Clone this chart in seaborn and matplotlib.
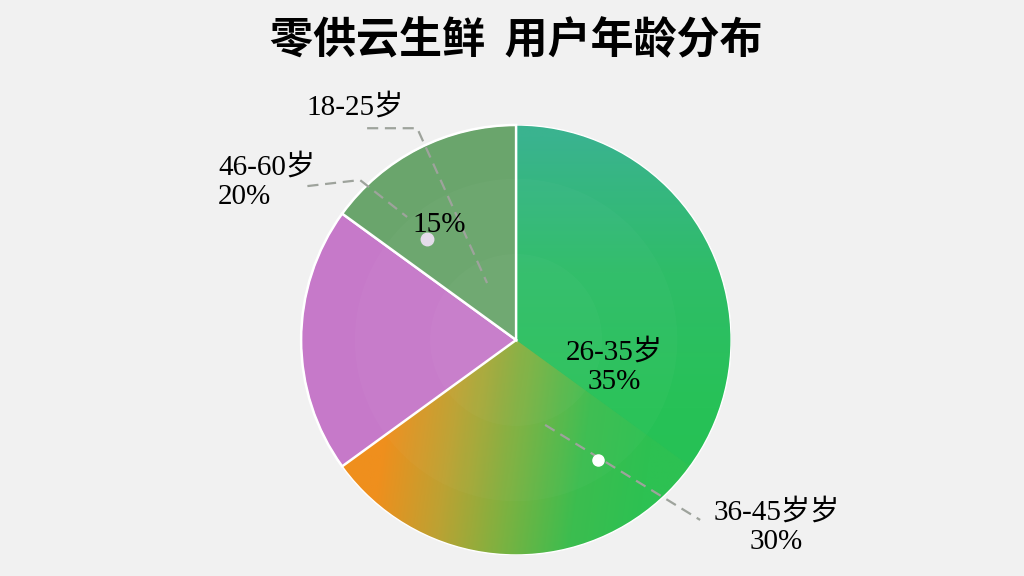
import numpy as np
import matplotlib
matplotlib.use("Agg")
import matplotlib.pyplot as plt
from matplotlib.colors import LinearSegmentedColormap
from matplotlib.patches import Circle
import seaborn as sns

sns.set_theme(style="white")
plt.rcParams['font.family'] = ['Liberation Serif', 'Noto Sans CJK SC', 'DejaVu Sans']

# data
age_groups = ["26-35岁", "36-45岁", "46-60岁", "18-25岁"]
shares = [35, 30, 20, 15]
slice_colors = ["#2dc060", "#7cb342", "#c679c9", "#6aa56c"]
title = "零供云生鲜  用户年龄分布"

bg = "#f1f1f1"
fig = plt.figure(figsize=(10.24, 5.76), dpi=100, facecolor=bg)
ax = fig.add_axes([0.294, 0.0365, 0.42, 0.7465])
ax.set_facecolor(bg)

wedges, _ = ax.pie(shares, colors=slice_colors, startangle=90, counterclock=False,
                   radius=1, wedgeprops=dict(edgecolor="white", linewidth=1.8))
ax.set_xlim(-1, 1)
ax.set_ylim(-1, 1)
ax.set_aspect("equal")
ax.axis("off")

# green base under the gradient slices, hides the seam between them
ax.add_patch(Circle((0, 0), 0.995, facecolor="#2cc058", edgecolor="none", zorder=1.2))

# gradient fills for the two green slices (no white edge between them)
yy, xx = np.mgrid[-1:1:400j, -1:1:400j]
grad_green = LinearSegmentedColormap.from_list("g", ["#3ab38f", "#2fbd68", "#27c257", "#26c152"])
g1 = np.clip((0.95 - yy) / 1.9, 0, 1)
im1 = ax.imshow(g1, cmap=grad_green, extent=[-1, 1, -1, 1], origin="lower", zorder=1.5)
im1.set_clip_path(wedges[0])

grad_orange = LinearSegmentedColormap.from_list("o", ["#ef8f1d", "#bca233", "#7bb241", "#3cbd4f", "#2dc152"])
g2 = np.clip((xx + 0.68 - 0.15 * (yy + 0.9)) / 1.25, 0, 1)
im2 = ax.imshow(g2, cmap=grad_orange, extent=[-1, 1, -1, 1], origin="lower", zorder=1.5)
im2.set_clip_path(wedges[1])

for w in wedges[:2]:
    w.set_facecolor("none")
    w.set_linewidth(0)
for w in wedges[2:]:
    w.set_zorder(2.2)

# faint concentric rings
for r, a in [(0.75, 0.025), (0.4, 0.025)]:
    ax.add_patch(Circle((0, 0), r, facecolor="white", edgecolor="none", alpha=a, zorder=2.5))
ax.add_patch(Circle((0, 0), 1, facecolor="none", edgecolor="white", lw=1.0, zorder=2.6))

fs = 21
ls_dash = (0, (5, 3))
line_c = "#9ea39c"

ax.text(0.456, -0.126, f"{age_groups[0]}\n{shares[0]}%", ha="center", va="center",
        fontsize=fs, color="black", linespacing=1.15, zorder=5)

# 36-45
ax.plot([0.135, 0.856], [-0.395, -0.837], ls=ls_dash, color=line_c, lw=1.6, zorder=4)
ax.plot(0.38, -0.56, "o", color="white", ms=8, zorder=5)
ax.text(1.21, -0.87, f"{age_groups[1]}岁\n{shares[1]}%", ha="center", va="center",
        fontsize=fs, color="black", linespacing=1.15, zorder=5)

# 46-60
ax.plot([-1.135, -0.726, -0.507], [0.697, 0.744, 0.572], ls=ls_dash, color=line_c,
        lw=1.6, zorder=4)
ax.text(-1.386, 0.735, f"{age_groups[2]}\n{shares[2]}%", ha="left", va="center",
        fontsize=fs, color="black", linespacing=1.15, zorder=5)

# 18-25
ax.plot([-0.693, -0.46, -0.135], [0.985, 0.985, 0.265], ls=ls_dash, color=line_c,
        lw=1.6, zorder=4)
ax.text(-0.75, 1.083, age_groups[3], ha="center", va="center", fontsize=fs,
        color="black", zorder=5)
ax.plot(-0.414, 0.468, "o", color="#e4dcea", ms=9, zorder=5)
ax.text(-0.36, 0.535, f"{shares[3]}%", ha="center", va="center", fontsize=fs,
        color="black", zorder=5)

fig.text(0.504, 0.93, title, ha="center", va="center", fontsize=31, fontweight="bold",
         family=['Noto Sans CJK SC', 'DejaVu Sans'], color="black")

fig.savefig("out.png", dpi=100, facecolor=bg)
